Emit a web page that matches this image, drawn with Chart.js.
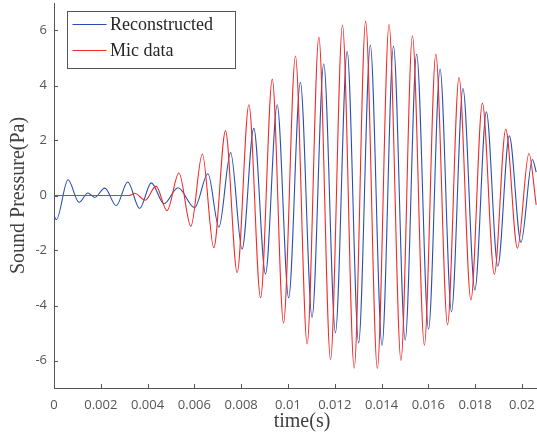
<!DOCTYPE html>
<html>
<head>
<meta charset="utf-8">
<script src="https://cdn.jsdelivr.net/npm/chart.js@4"></script>
<style>
  html, body { margin: 0; padding: 0; background: #fff; overflow: hidden; }
  #wrap { width: 560px; height: 439px; }
</style>
</head>
<body>
<div id="wrap"><canvas id="sound" width="560" height="439"></canvas></div>
<script>
/* ─── Data ───────────────────────────────────────────────────── */
// Reconstructed: time (s) and pressure (Pa) at turning points
const recTime = [
  0, 0.00010, 0.00060, 0.00107, 0.00145, 0.00174, 0.00217, 0.00266, 0.00315,
  0.00366, 0.00416, 0.00470, 0.00530, 0.00601, 0.00658, 0.00705, 0.00755,
  0.00804, 0.00854, 0.00904, 0.00954, 0.01003, 0.01053, 0.01103, 0.01153,
  0.01203, 0.01253, 0.01302, 0.01352, 0.01402, 0.01451, 0.01501, 0.01550,
  0.01601, 0.01650, 0.01699, 0.01748, 0.01799, 0.01848, 0.01897, 0.01946,
  0.01996, 0.02045, 0.02061
];
const recPressure = [
  -0.75, -0.88, 0.57, -0.25, 0.09, -0.07, 0.27, -0.37, 0.49,
  -0.47, 0.46, -0.30, 0.28, -0.44, 0.79, -1.15, 1.56,
  -1.95, 2.44, -2.85, 3.30, -3.72, 4.12, -4.43, 4.79,
  -4.99, 5.24, -5.36, 5.47, -5.45, 5.43, -5.26, 5.14,
  -4.86, 4.60, -4.23, 3.89, -3.43, 3.04, -2.57, 2.17,
  -1.70, 1.31, 0.85
];

// Mic data
const micTime = [
  0, 0.00320, 0.00345, 0.00390, 0.00436, 0.00483, 0.00534, 0.00585, 0.00634,
  0.00683, 0.00733, 0.00783, 0.00833, 0.00883, 0.00933, 0.00981, 0.01032,
  0.01082, 0.01132, 0.01182, 0.01233, 0.01283, 0.01332, 0.01382, 0.01432,
  0.01483, 0.01532, 0.01583, 0.01632, 0.01682, 0.01731, 0.01782, 0.01831,
  0.01882, 0.01931, 0.01981, 0.02030, 0.02061
];
const micPressure = [
  0, 0, 0.08, -0.17, 0.34, -0.55, 0.82, -1.12, 1.51,
  -1.90, 2.35, -2.80, 3.30, -3.72, 4.23, -4.64, 5.07,
  -5.40, 5.76, -5.97, 6.20, -6.28, 6.34, -6.29, 6.22,
  -6.00, 5.81, -5.44, 5.14, -4.70, 4.29, -3.80, 3.36,
  -2.86, 2.41, -1.92, 1.53, -0.34
];

const seriesLabels = ['Reconstructed', 'Mic data'];
const xTicks = [0, 0.002, 0.004, 0.006, 0.008, 0.01, 0.012, 0.014, 0.016, 0.018, 0.02];
const yTicks = [-6, -4, -2, 0, 2, 4, 6];

/* ─── Helpers ────────────────────────────────────────────────── */
const toPoints = (xs, ys) => xs.map((x, i) => ({ x: x, y: ys[i] }));
const axisColor = '#555';
const tickFont = { family: '"Open Sans", sans-serif', size: 13 };
const serif = '"Liberation Serif", "Times New Roman", serif';

// MATLAB-style inward tick marks
const innerTicks = {
  id: 'innerTicks',
  afterDatasetsDraw(chart) {
    const { ctx, chartArea: a, scales: { x, y } } = chart;
    ctx.save();
    ctx.strokeStyle = axisColor;
    ctx.lineWidth = 1;
    ctx.beginPath();
    x.ticks.forEach(t => {
      const px = Math.round(x.getPixelForValue(t.value)) + 0.5;
      ctx.moveTo(px, a.bottom);
      ctx.lineTo(px, a.bottom - 4);
    });
    y.ticks.forEach(t => {
      const py = Math.round(y.getPixelForValue(t.value)) + 0.5;
      ctx.moveTo(a.left, py);
      ctx.lineTo(a.left + 4, py);
    });
    ctx.stroke();
    ctx.restore();
  }
};

// boxed legend inside the axes, top-left
const boxLegend = {
  id: 'boxLegend',
  afterDraw(chart) {
    const { ctx } = chart;
    const bx = 67.5, by = 11.5, bw = 168, bh = 57, rowH = 26;
    ctx.save();
    ctx.fillStyle = '#fff';
    ctx.fillRect(bx, by, bw, bh);
    ctx.strokeStyle = axisColor;
    ctx.lineWidth = 1;
    ctx.strokeRect(bx, by, bw, bh);
    ctx.font = '18px ' + serif;
    ctx.textBaseline = 'middle';
    ctx.fillStyle = '#262626';
    chart.data.datasets.forEach((ds, i) => {
      const cy = Math.round(by + 12 + i * rowH) + 0.5;
      ctx.strokeStyle = ds.borderColor;
      ctx.lineWidth = 1.2;
      ctx.beginPath();
      ctx.moveTo(bx + 5, cy);
      ctx.lineTo(bx + 39, cy);
      ctx.stroke();
      ctx.fillText(ds.label, bx + 42.5, cy + 1);
    });
    ctx.restore();
  }
};

/* ─── Chart ──────────────────────────────────────────────────── */
new Chart(document.getElementById('sound'), {
  type: 'scatter',
  data: {
    datasets: [
      {
        label: seriesLabels[0],
        data: toPoints(recTime, recPressure),
        showLine: true,
        borderColor: '#2b4fb0',
        borderWidth: 1.1,
        pointRadius: 0,
        cubicInterpolationMode: 'monotone',
        order: 2
      },
      {
        label: seriesLabels[1],
        data: toPoints(micTime, micPressure),
        showLine: true,
        borderColor: '#f22a2a',
        borderWidth: 1.1,
        pointRadius: 0,
        cubicInterpolationMode: 'monotone',
        order: 1
      }
    ]
  },
  options: {
    responsive: false,
    animation: false,
    layout: { padding: { top: 3, right: 10, left: 0, bottom: 0 } },
    plugins: {
      legend: { display: false },
      tooltip: { enabled: false }
    },
    scales: {
      x: {
        type: 'linear',
        min: 0,
        max: 0.0212,
        afterBuildTicks: s => { s.ticks = xTicks.map(v => ({ value: v })); },
        afterFit: s => { s.height = 51; s.paddingLeft = 0; s.paddingRight = 0; },
        grid: { display: false, drawTicks: false },
        border: { display: true, color: axisColor, width: 1 },
        ticks: {
          padding: 9,
          color: axisColor,
          font: tickFont,
          maxRotation: 0,
          autoSkip: false,
          callback: v => String(parseFloat(v.toFixed(4)))
        },
        title: {
          display: true,
          text: 'time(s)',
          color: '#404040',
          font: { family: serif, size: 20 },
          padding: { top: 0, bottom: 5 }
        }
      },
      y: {
        min: -7,
        max: 7,
        afterBuildTicks: s => { s.ticks = yTicks.map(v => ({ value: v })); },
        afterFit: s => { s.width = 54; s.paddingTop = 0; s.paddingBottom = 0; },
        grid: { display: false, drawTicks: false },
        border: { display: true, color: axisColor, width: 1 },
        ticks: {
          padding: 7,
          color: axisColor,
          font: tickFont,
          autoSkip: false,
          callback: v => String(v)
        },
        title: {
          display: true,
          text: 'Sound Pressure(Pa)',
          color: '#404040',
          font: { family: serif, size: 20 },
          padding: { top: 7, bottom: 0 }
        }
      }
    }
  },
  plugins: [innerTicks, boxLegend]
});
</script>
</body>
</html>
